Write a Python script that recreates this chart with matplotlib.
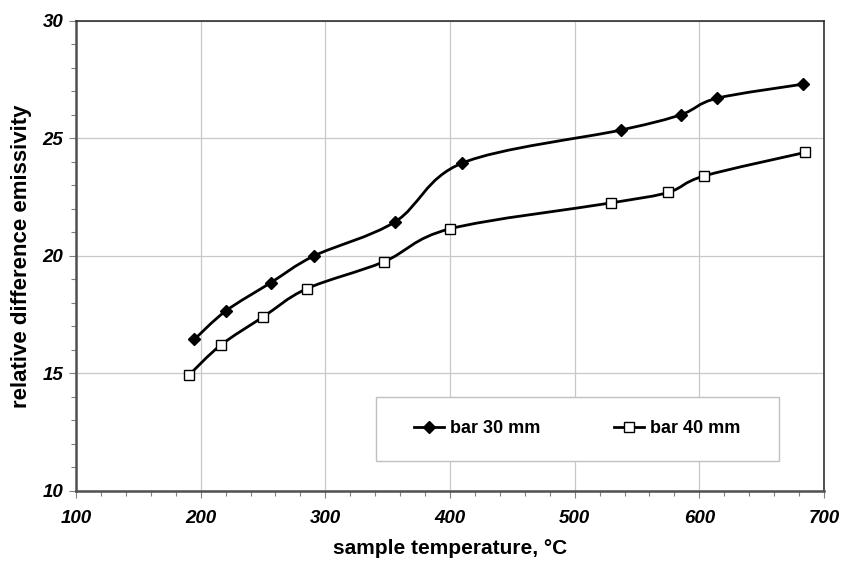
import numpy as np
import matplotlib
matplotlib.use("Agg")
import matplotlib.pyplot as plt
from matplotlib.path import Path
from matplotlib.patches import PathPatch, Rectangle
from matplotlib.lines import Line2D

plt.rcParams['font.family'] = ['Liberation Sans', 'DejaVu Sans']

# values
temp_30 = [195, 220, 256, 291, 356, 410, 537, 585, 614, 683]
emis_30 = [16.45, 17.65, 18.85, 20.0, 21.45, 23.95, 25.35, 26.0, 26.7, 27.3]
temp_40 = [191, 216, 250, 285, 347, 400, 529, 575, 604, 685]
emis_40 = [14.95, 16.2, 17.4, 18.6, 19.75, 21.15, 22.25, 22.7, 23.4, 24.4]
labels = ["bar 30 mm", "bar 40 mm"]


def smooth_path(x, y):
    # excel style smoothed line: cubic bezier segments with catmull-rom tangents
    p = np.column_stack([x, y]).astype(float)
    pts = np.vstack([p[0], p, p[-1]])
    verts = [p[0]]
    codes = [Path.MOVETO]
    for i in range(1, len(pts) - 2):
        p0, p1, p2, p3 = pts[i - 1], pts[i], pts[i + 1], pts[i + 2]
        verts += [p1 + (p2 - p0) / 6, p2 - (p3 - p1) / 6, p2]
        codes += [Path.CURVE4] * 3
    return Path(verts, codes)


fig, ax = plt.subplots(figsize=(8.41, 5.61), dpi=100)
fig.subplots_adjust(left=0.0904, right=0.9798, bottom=0.1248, top=0.9631)

ax.set_xlim(100, 700)
ax.set_ylim(10, 30)
ax.set_xticks(np.arange(100, 701, 100))
ax.set_yticks(np.arange(10, 31, 5))
ax.set_xticks(np.arange(100, 701, 20), minor=True)
ax.set_yticks(np.arange(10, 31, 1), minor=True)
ax.grid(True, which='major', color='#c8c8c8', lw=0.9)
ax.set_axisbelow(True)

ax.tick_params(which='major', direction='out', length=5, width=0.8, color='#808080',
               labelsize=13.5)
ax.tick_params(which='minor', direction='out', length=3.5, width=0.8, color='#808080')
ax.tick_params(axis='x', which='major', pad=9)
ax.tick_params(axis='y', which='major', pad=4)
for lab in ax.get_xticklabels() + ax.get_yticklabels():
    lab.set_fontweight('bold')
    lab.set_fontstyle('italic')

for side in ['top', 'right']:
    ax.spines[side].set_color('#303030')
    ax.spines[side].set_linewidth(1.2)
for side in ['left', 'bottom']:
    ax.spines[side].set_color('#505050')
    ax.spines[side].set_linewidth(1.8)

# curves
for tx, ey in [(temp_30, emis_30), (temp_40, emis_40)]:
    ax.add_patch(PathPatch(smooth_path(tx, ey), facecolor='none', edgecolor='black',
                           lw=2.0, zorder=3))

ax.plot(temp_30, emis_30, ls='none', marker='D', ms=6.3, mfc='black', mec='black', zorder=4)
ax.plot(temp_40, emis_40, ls='none', marker='s', ms=6.8, mfc='white', mec='black',
        mew=1.0, zorder=4)

ax.set_xlabel("sample temperature, °C", fontsize=15, fontweight='bold', labelpad=8)
ax.set_ylabel("relative difference emissivity", fontsize=16, fontweight='bold', labelpad=8)

# legend box
ax.add_patch(Rectangle((0.401, 0.064), 0.539, 0.136, transform=ax.transAxes,
                       facecolor='white', edgecolor='#c0c0c0', lw=1.0, zorder=2.5))
handles = [
    Line2D([], [], color='black', lw=2, marker='D', ms=6.3, mfc='black', mec='black'),
    Line2D([], [], color='black', lw=2, marker='s', ms=6.8, mfc='white', mec='black', mew=1.0),
]
leg = ax.legend(handles, labels, ncol=2, loc='center', bbox_to_anchor=(0.670, 0.132),
                frameon=False, columnspacing=4.1, handlelength=1.67, handletextpad=0.3,
                prop={'size': 13, 'weight': 'bold'})
leg.set_zorder(5)

fig.savefig("out.png", dpi=100)
